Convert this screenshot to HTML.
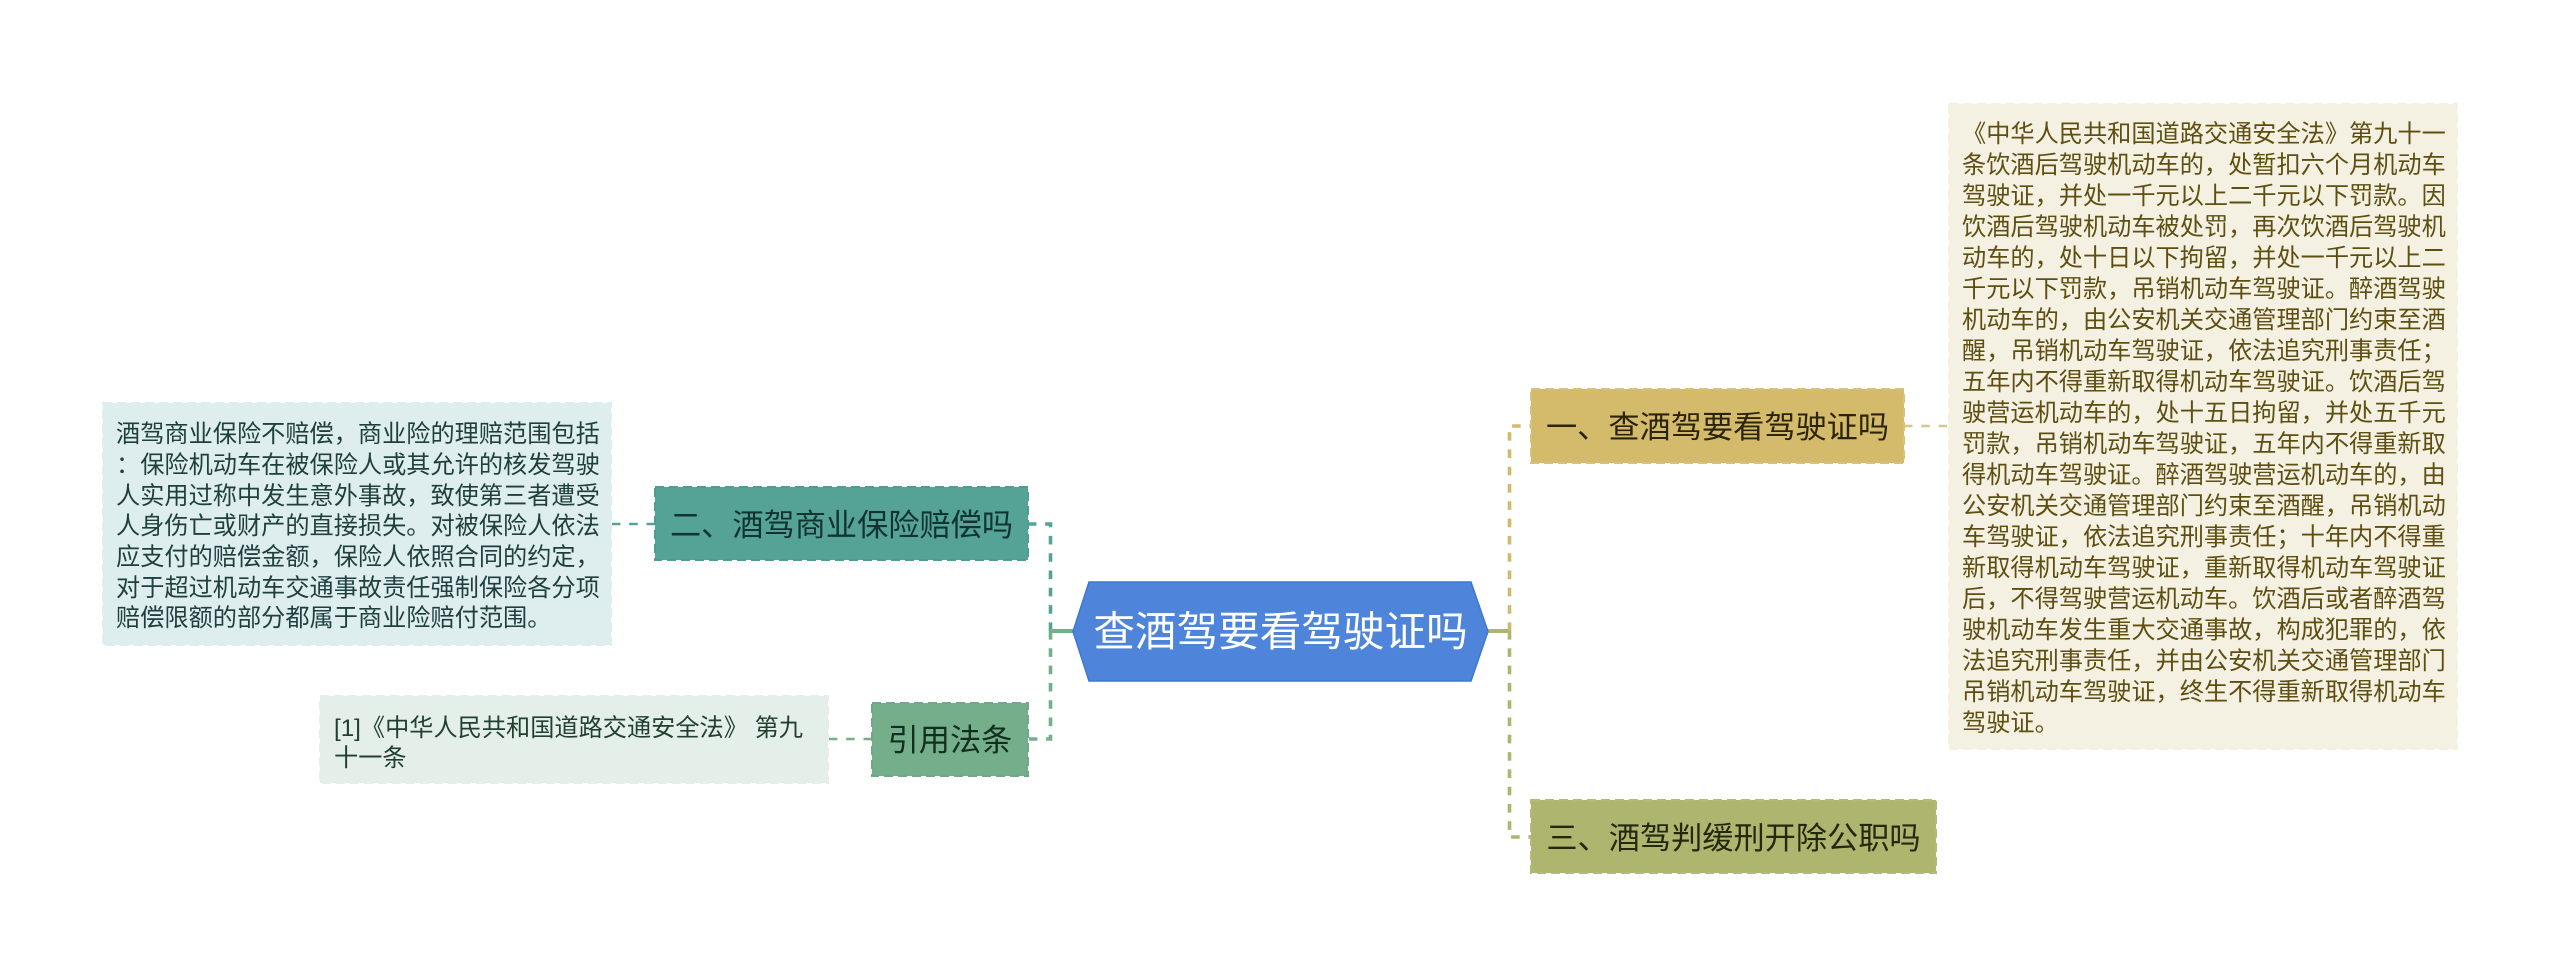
<!DOCTYPE html>
<html lang="zh">
<head>
<meta charset="utf-8">
<title>查酒驾要看驾驶证吗</title>
<style>
html,body{margin:0;padding:0;background:#fff;width:2560px;height:977px;overflow:hidden}
svg{display:block;filter:blur(0.35px)}
text{font-family:"Liberation Sans","Noto Sans CJK SC",sans-serif;white-space:pre}
.d{font-size:24.2px}
.n{font-size:31.2px}
</style>
</head>
<body>
<svg width="2560" height="977" viewBox="0 0 2560 977" xmlns="http://www.w3.org/2000/svg">
<rect width="2560" height="977" fill="#fff"/>

<!-- branch connectors -->
<g fill="none" stroke-width="3.6" stroke-dasharray="8.6 8.7">
  <path d="M1509.5 631V426H1531" stroke="#d0bb6d"/>
  <path d="M1509.5 631V837H1531" stroke="#aeb56f"/>
  <path d="M1050.5 631V524H1029" stroke="#55a397"/>
  <path d="M1050.5 631V739H1029" stroke="#74ae8a"/>
</g>
<path d="M1488 631H1509" stroke="#aeb56f" stroke-width="4" fill="none"/>
<path d="M1050 631H1074" stroke="#74ae8a" stroke-width="4" fill="none"/>

<!-- detail connectors -->
<g fill="none" stroke-width="2.5" stroke-dasharray="8.5 8.8">
  <path d="M1904 426H1949" stroke="#d3c88a"/>
  <path d="M655 524H611" stroke="#55a397"/>
  <path d="M872 739H828" stroke="#74ae8a"/>
</g>

<!-- detail boxes -->
<g stroke-width="2" stroke-dasharray="9 5">
  <rect x="1949" y="104" width="508" height="645" fill="#f4f1e3" stroke="#f4f1e3"/>
  <rect x="103" y="403" width="508" height="242" fill="#deeded" stroke="#deeded"/>
  <rect x="320" y="696" width="508" height="87" fill="#e5efe9" stroke="#e5efe9"/>
</g>

<!-- nodes -->
<g stroke-width="2" stroke-dasharray="9 5">
  <rect x="1531" y="389" width="373" height="74" fill="#d3bb6b" stroke="#d7c278"/>
  <rect x="1531" y="800" width="405" height="73" fill="#aeb56f" stroke="#b3ba78"/>
  <rect x="655" y="487" width="373" height="73" fill="#55a397" stroke="#4f9c90"/>
  <rect x="872" y="703" width="156" height="73" fill="#74ae8a" stroke="#6fa985"/>
</g>

<!-- central node -->
<polygon points="1073,631.5 1089,582 1471,582 1488,631.5 1471,681 1089,681" fill="#4e85db" stroke="#3f78cf" stroke-width="1.5"/>
<text x="1280.5" y="646" font-size="41.6" fill="#fff" text-anchor="middle">查酒驾要看驾驶证吗</text>

<!-- node labels -->
<g class="n">
  <text class="n" x="1717.5" y="438" fill="#2c2408" text-anchor="middle">一、查酒驾要看驾驶证吗</text>
  <text class="n" x="1733.5" y="849" fill="#24280c" text-anchor="middle">三、酒驾判缓刑开除公职吗</text>
  <text class="n" x="841.5" y="536" fill="#123430" text-anchor="middle">二、酒驾商业保险赔偿吗</text>
  <text class="n" x="950" y="751" fill="#122e1e" text-anchor="middle">引用法条</text>
</g>

<!-- right detail -->
<g class="d" fill="#5e4e10">
  <text class="d" x="1962" y="142">《中华人民共和国道路交通安全法》第九十一</text>
  <text class="d" x="1962" y="173">条饮酒后驾驶机动车的，处暂扣六个月机动车</text>
  <text class="d" x="1962" y="204">驾驶证，并处一千元以上二千元以下罚款。因</text>
  <text class="d" x="1962" y="235">饮酒后驾驶机动车被处罚，再次饮酒后驾驶机</text>
  <text class="d" x="1962" y="266">动车的，处十日以下拘留，并处一千元以上二</text>
  <text class="d" x="1962" y="297">千元以下罚款，吊销机动车驾驶证。醉酒驾驶</text>
  <text class="d" x="1962" y="328">机动车的，由公安机关交通管理部门约束至酒</text>
  <text class="d" x="1962" y="359">醒，吊销机动车驾驶证，依法追究刑事责任；</text>
  <text class="d" x="1962" y="390">五年内不得重新取得机动车驾驶证。饮酒后驾</text>
  <text class="d" x="1962" y="421">驶营运机动车的，处十五日拘留，并处五千元</text>
  <text class="d" x="1962" y="452">罚款，吊销机动车驾驶证，五年内不得重新取</text>
  <text class="d" x="1962" y="483">得机动车驾驶证。醉酒驾驶营运机动车的，由</text>
  <text class="d" x="1962" y="514">公安机关交通管理部门约束至酒醒，吊销机动</text>
  <text class="d" x="1962" y="545">车驾驶证，依法追究刑事责任；十年内不得重</text>
  <text class="d" x="1962" y="576">新取得机动车驾驶证，重新取得机动车驾驶证</text>
  <text class="d" x="1962" y="607">后，不得驾驶营运机动车。饮酒后或者醉酒驾</text>
  <text class="d" x="1962" y="638">驶机动车发生重大交通事故，构成犯罪的，依</text>
  <text class="d" x="1962" y="669">法追究刑事责任，并由公安机关交通管理部门</text>
  <text class="d" x="1962" y="700">吊销机动车驾驶证，终生不得重新取得机动车</text>
  <text class="d" x="1962" y="731">驾驶证。</text>
</g>

<!-- left detail -->
<g class="d" fill="#1f3f3d">
  <text class="d" x="116" y="442">酒驾商业保险不赔偿，商业险的理赔范围包括</text>
  <text class="d" x="116" y="473">：保险机动车在被保险人或其允许的核发驾驶</text>
  <text class="d" x="116" y="504">人实用过称中发生意外事故，致使第三者遭受</text>
  <text class="d" x="116" y="534">人身伤亡或财产的直接损失。对被保险人依法</text>
  <text class="d" x="116" y="565">应支付的赔偿金额，保险人依照合同的约定，</text>
  <text class="d" x="116" y="596">对于超过机动车交通事故责任强制保险各分项</text>
  <text class="d" x="116" y="626">赔偿限额的部分都属于商业险赔付范围。</text>
</g>

<!-- reference detail -->
<g class="d" fill="#21402f">
  <text class="d" x="334" y="736">[1]《中华人民共和国道路交通安全法》 第九</text>
  <text class="d" x="334" y="766">十一条</text>
</g>
</svg>
</body>
</html>
